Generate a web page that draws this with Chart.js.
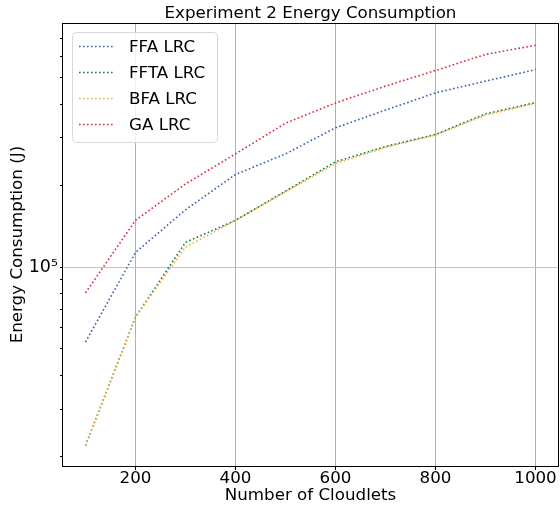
<!DOCTYPE html>
<html>
<head>
<meta charset="utf-8">
<script src="https://cdn.jsdelivr.net/npm/chart.js@4"></script>
<style>
  html, body { margin: 0; padding: 0; background: #fff; }
  #wrap { width: 560px; height: 513px; }
</style>
</head>
<body>
<div id="wrap"><canvas id="chart" width="560" height="513"></canvas></div>
<script>
// data
const cloudlets = [100, 200, 300, 400, 500, 600, 700, 800, 900, 1000];
const ffaLrc  = [53000, 113500, 163000, 220000, 262000, 327000, 380000, 440000, 486000, 536000];
const fftaLrc = [22000, 65500, 123600, 149000, 191000, 245000, 279000, 309000, 368000, 405000];
const bfaLrc  = [22000, 65500, 118600, 149000, 190000, 241000, 277000, 308000, 364000, 403000];
const gaLrc   = [80500, 149000, 203000, 262000, 340000, 404000, 466000, 532000, 610000, 659000];

const xTicks = [200, 400, 600, 800, 1000];
const yMajor = [100000];
const yMinor = [20000, 30000, 40000, 50000, 60000, 70000, 80000, 90000,
                200000, 300000, 400000, 500000, 600000, 700000];

const FONT = 'DejaVu Sans';

function pts(arr) {
  return cloudlets.map((c, i) => ({ x: c, y: arr[i] }));
}

function line(label, arr, color, order) {
  return {
    label: label,
    data: pts(arr),
    borderColor: color,
    backgroundColor: color,
    borderWidth: 1.6,
    borderDash: [1.6, 2.4],
    pointRadius: 0,
    tension: 0,
    fill: false,
    order: order
  };
}

// box round the plot + legend drawn inside like matplotlib
const boxAndLegend = {
  id: 'boxAndLegend',
  afterDraw(chart) {
    const ctx = chart.ctx;
    const a = chart.chartArea;
    ctx.save();
    ctx.strokeStyle = '#000';
    ctx.lineWidth = 1;
    ctx.strokeRect(Math.round(a.left) - 0.5, Math.round(a.top) + 0.5,
                   Math.round(a.right - a.left) + 1, Math.round(a.bottom - a.top));

    // legend
    const lx = 72, ly = 32, lw = 145, lh = 110;
    ctx.beginPath();
    ctx.roundRect(lx + 0.5, ly + 0.5, lw, lh, 4);
    ctx.fillStyle = 'rgba(255,255,255,0.8)';
    ctx.fill();
    ctx.strokeStyle = '#d8d8d8';
    ctx.stroke();

    ctx.font = '16.7px "' + FONT + '"';
    ctx.textBaseline = 'middle';
    ctx.textAlign = 'left';
    chart.data.datasets.forEach((ds, i) => {
      const y = 46.5 + i * 26;
      ctx.beginPath();
      ctx.setLineDash(ds.borderDash);
      ctx.lineWidth = ds.borderWidth;
      ctx.strokeStyle = ds.borderColor;
      ctx.moveTo(79, y);
      ctx.lineTo(113, y);
      ctx.stroke();
      ctx.setLineDash([]);
      ctx.fillStyle = '#000';
      ctx.fillText(ds.label, 129, y + 1);
    });
    ctx.restore();
  }
};

new Chart(document.getElementById('chart'), {
  type: 'line',
  data: {
    datasets: [
      line('FFA LRC', ffaLrc, '#3a5eb0', 2),
      line('FFTA LRC', fftaLrc, '#0f7f4f', 1),
      line('BFA LRC', bfaLrc, '#ffac3a', 0),
      line('GA LRC', gaLrc, '#dc2a3a', 3)
    ]
  },
  options: {
    responsive: false,
    animation: false,
    layout: { padding: { right: 2, left: 0, top: 0, bottom: 0 } },
    plugins: {
      legend: { display: false },
      tooltip: { enabled: false },
      title: {
        display: true,
        text: 'Experiment 2 Energy Consumption',
        fullSize: false,
        color: '#000',
        font: { family: FONT, size: 16.7, weight: 'normal', lineHeight: 1.15 },
        padding: { top: 4, bottom: 0 }
      }
    },
    scales: {
      x: {
        type: 'linear',
        min: 55,
        max: 1045,
        afterBuildTicks(scale) {
          scale.ticks = xTicks.map(v => ({ value: v }));
        },
        afterFit(scale) { scale.height = 47; },
        border: { display: false },
        grid: {
          color: '#b0b0b0',
          lineWidth: 1,
          drawTicks: true,
          tickLength: 4,
          tickColor: '#000'
        },
        ticks: {
          autoSkip: false,
          maxRotation: 0,
          padding: 0,
          color: '#000',
          font: { family: FONT, size: 16.7, lineHeight: 1 },
          callback: v => String(v)
        },
        title: {
          display: true,
          text: 'Number of Cloudlets',
          color: '#000',
          font: { family: FONT, size: 16.7, lineHeight: 1.2 },
          padding: { top: 0, bottom: 7 }
        }
      },
      y: {
        type: 'logarithmic',
        min: 18500,
        max: 795000,
        afterBuildTicks(scale) {
          scale.ticks = yMinor.concat(yMajor).sort((p, q) => p - q).map(v => ({ value: v }));
        },
        afterFit(scale) { scale.width = 63; },
        border: { display: false },
        grid: {
          color: ctx => (ctx.tick && yMajor.includes(ctx.tick.value)) ? '#c4c4c4' : 'rgba(0,0,0,0)',
          lineWidth: 1,
          drawTicks: true,
          tickLength: 3,
          tickColor: '#000'
        },
        ticks: {
          autoSkip: false,
          padding: 2,
          color: '#000',
          font: { family: FONT, size: 17.5 },
          callback: v => yMajor.includes(v) ? '10⁵' : ''
        },
        title: {
          display: true,
          text: 'Energy Consumption (J)',
          color: '#000',
          font: { family: FONT, size: 16.7, lineHeight: 1.2 },
          padding: { top: 8, bottom: 0 }
        }
      }
    }
  },
  plugins: [boxAndLegend]
});
</script>
</body>
</html>
